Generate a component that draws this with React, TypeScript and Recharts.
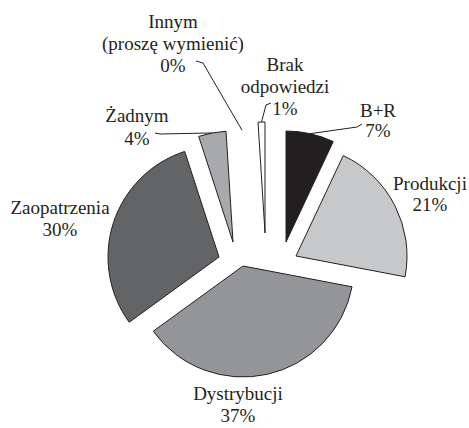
import { Cell, Pie, PieChart } from "recharts";

// answers, clockwise from 12 o'clock
const categories = [
  "B+R",
  "Produkcji",
  "Dystrybucji",
  "Zaopatrzenia",
  "Żadnym",
  "Innym (proszę wymienić)",
  "Brak odpowiedzi",
];
const shares = [7, 21, 37, 30, 4, 0, 1];
const labelText = [
  ["B+R"],
  ["Produkcji"],
  ["Dystrybucji"],
  ["Zaopatrzenia"],
  ["Żadnym"],
  ["Innym", "(proszę wymienić)"],
  ["Brak", "odpowiedzi"],
];

const data = categories.map((name, i) => ({ name, value: shares[i] }));

// look
const W = 469;
const H = 428;
const CX = 260;
const CY = 252;
const R = 111;
const INK = "#231f20";
const FONT = "'Liberation Serif', 'Times New Roman', serif";
const fills = ["#231f20", "#c7c8ca", "#939598", "#636466", "#a7a9ac", "#ffffff", "#ffffff"];
// how far each slice is pulled out of the pie (dx, dy)
const explode = [
  [26, -10],
  [36, 4],
  [-17, 14],
  [-41, 5],
  [-27, -10],
  [-11, -11],
  [5, -19],
];
// where each label sits, plus the elbow of its leader line if it has one
const labelLayout: { x: number; y: number; lh: number; leader?: number[][] }[] = [
  { x: 378, y: 117, lh: 20, leader: [[362, 124], [357, 127]] },
  { x: 430, y: 190, lh: 21 },
  { x: 238, y: 400, lh: 22 },
  { x: 60, y: 214, lh: 22 },
  { x: 137, y: 122, lh: 23, leader: [[155, 133], [160, 134]] },
  { x: 173, y: 28, lh: 22, leader: [[196, 61], [203, 63]] },
  { x: 285, y: 71, lh: 22, leader: [[271, 103], [266, 105]] },
];

const RAD = Math.PI / 180;

function makeLabel(slice: number) {
  return (props: any) => {
    if (props.index !== slice) return null;
    const layout = labelLayout[slice];
    const lines = [...labelText[slice], `${props.value}%`];
    // leader ends on the outer arc at the slice's middle
    const ex = props.cx + props.outerRadius * Math.cos(-props.midAngle * RAD);
    const ey = props.cy + props.outerRadius * Math.sin(-props.midAngle * RAD);
    return (
      <g key={`label-${slice}`}>
        {layout.leader && (
          <polyline
            fill="none"
            points={[...layout.leader, [ex, ey]].map((p) => p.join(",")).join(" ")}
            stroke={INK}
            strokeWidth={1}
          />
        )}
        <text fill={INK} fontFamily={FONT} fontSize={19} textAnchor="middle">
          {lines.map((line, k) => (
            <tspan key={k} x={layout.x} y={layout.y + k * layout.lh}>
              {line}
            </tspan>
          ))}
        </text>
      </g>
    );
  };
}

export default function App() {
  return (
    <div style={{ position: "absolute", left: 0, top: 0, width: W, height: H, background: "#fff" }}>
      <PieChart height={H} width={W} margin={{ top: 0, right: 0, bottom: 0, left: 0 }}>
        {data.map((_, i) => (
          <Pie
            key={categories[i]}
            cx={CX + explode[i][0]}
            cy={CY + explode[i][1]}
            data={data}
            dataKey="value"
            endAngle={-270}
            isAnimationActive={false}
            label={makeLabel(i)}
            labelLine={false}
            nameKey="name"
            outerRadius={R}
            startAngle={90}
          >
            {data.map((_, j) => (
              <Cell
                key={j}
                fill={j === i ? fills[j] : "none"}
                stroke={j === i ? INK : "none"}
                strokeWidth={1}
              />
            ))}
          </Pie>
        ))}
      </PieChart>
    </div>
  );
}
